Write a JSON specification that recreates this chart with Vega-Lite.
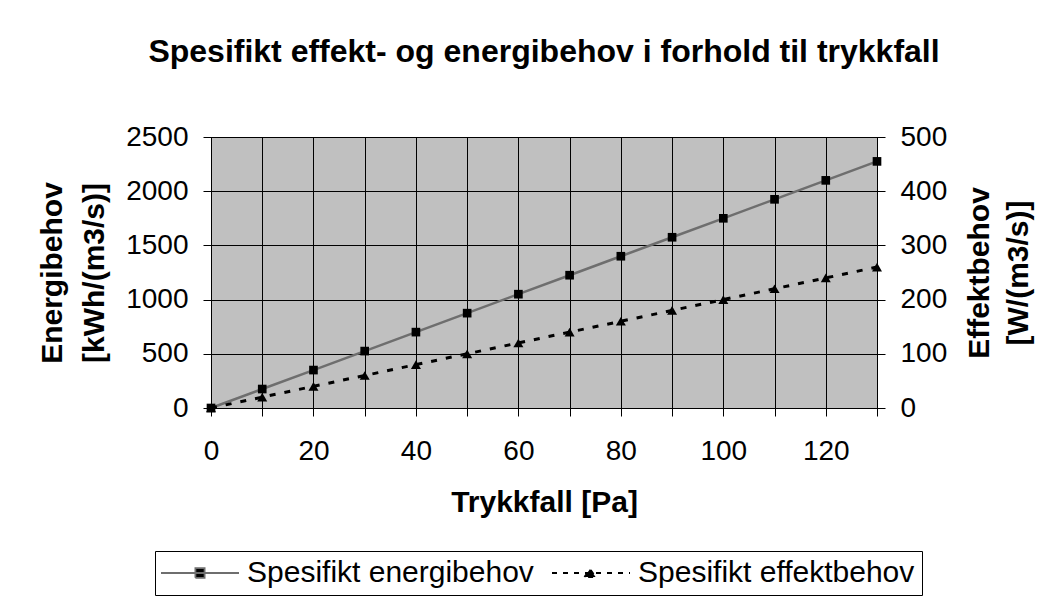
{
  "$schema": "https://vega.github.io/schema/vega-lite/v6.json",
  "autosize": "none",
  "width": 666,
  "height": 271,
  "padding": {"left": 211, "top": 137, "right": 174, "bottom": 190},
  "background": "white",
  "title": {
    "text": "Spesifikt effekt- og energibehov i forhold til trykkfall",
    "font": "Liberation Sans",
    "fontSize": 32,
    "fontWeight": "bold",
    "color": "black",
    "anchor": "middle",
    "offset": 54
  },
  "config": {
    "view": {"fill": "#c0c0c0", "stroke": "black", "strokeWidth": 1},
    "axis": {
      "labelFont": "Liberation Sans",
      "labelFontSize": 28,
      "labelColor": "black",
      "titleFont": "Liberation Sans",
      "titleFontSize": 30,
      "titleFontWeight": "bold",
      "titleColor": "black",
      "domainColor": "black",
      "tickColor": "black",
      "tickSize": 8,
      "gridColor": "black",
      "gridWidth": 1,
      "gridOpacity": 1
    }
  },
  "data": {
    "values": [
      {"trykk": 0, "energi": 0, "effekt": 0},
      {"trykk": 10, "energi": 175, "effekt": 20},
      {"trykk": 20, "energi": 350, "effekt": 40},
      {"trykk": 30, "energi": 525, "effekt": 60},
      {"trykk": 40, "energi": 700, "effekt": 80},
      {"trykk": 50, "energi": 875, "effekt": 100},
      {"trykk": 60, "energi": 1050, "effekt": 120},
      {"trykk": 70, "energi": 1225, "effekt": 140},
      {"trykk": 80, "energi": 1400, "effekt": 160},
      {"trykk": 90, "energi": 1575, "effekt": 180},
      {"trykk": 100, "energi": 1750, "effekt": 200},
      {"trykk": 110, "energi": 1925, "effekt": 220},
      {"trykk": 120, "energi": 2100, "effekt": 240},
      {"trykk": 130, "energi": 2275, "effekt": 260}
    ]
  },
  "encoding": {
    "x": {
      "field": "trykk",
      "type": "quantitative",
      "scale": {"domain": [0, 130], "nice": false, "zero": false},
      "axis": {
        "title": "Trykkfall [Pa]",
        "values": [0, 10, 20, 30, 40, 50, 60, 70, 80, 90, 100, 110, 120, 130],
        "labelExpr": "datum.value % 20 == 0 ? datum.label : ''",
        "grid": true,
        "labelPadding": 21,
        "titlePadding": 22,
        "labelFlush": false
      }
    }
  },
  "layer": [
    {
      "layer": [
        {
          "mark": {"type": "line", "strokeWidth": 2.5},
          "encoding": {
            "y": {
              "field": "energi",
              "type": "quantitative",
              "scale": {"domain": [0, 2500], "nice": false},
              "axis": {
                "title": ["Energibehov", "[kWh/(m3/s)]"],
                "orient": "left",
                "format": "d",
                "values": [0, 500, 1000, 1500, 2000, 2500],
                "grid": true,
                "titleAngle": -90,
                "titleLineHeight": 42,
                "titlePadding": 16,
                "labelPadding": 15,
                "labelFlush": false
              }
            },
            "color": {
              "datum": "Spesifikt energibehov",
              "type": "nominal",
              "scale": {"domain": ["Spesifikt energibehov", "Spesifikt effektbehov"], "range": ["#6e6e6e", "#000000"]},
              "legend": {
                "title": null,
                "orient": "none",
                "legendX": -56,
                "legendY": 414,
                "direction": "horizontal",
                "columns": 2,
                "columnPadding": 14,
                "padding": 7,
                "strokeColor": "black",
                "fillColor": "white",
                "labelFont": "Liberation Sans",
                "labelFontSize": 30,
                "labelColor": "black",
                "labelLimit": 500,
                "symbolSize": 256,
                "labelOffset": 55,
                "encode": {
                  "symbols": {
                    "update": {
                      "shape": {"signal": "datum.value == 'Spesifikt energibehov' ? 'M-2,0H7.75M2.3,-0.6H3.45V0.6H2.3Z' : 'M-2,0H7.75M2.05,0.5L2.75,-0.5L3.45,0.5Z'"},
                      "fill": {"value": "black"},
                      "stroke": {"signal": "datum.value == 'Spesifikt energibehov' ? '#6e6e6e' : 'black'"},
                      "strokeDash": {"signal": "datum.value == 'Spesifikt energibehov' ? [1, 0] : [5, 6]"},
                      "strokeWidth": {"value": 1.8},
                      "opacity": {"value": 1}
                    }
                  }
                }
              }
            }
          }
        },
        {
          "mark": {"type": "point", "shape": "square", "filled": true, "size": 75, "color": "black", "opacity": 1},
          "encoding": {
            "y": {"field": "energi", "type": "quantitative"}
          }
        }
      ]
    },
    {
      "layer": [
        {
          "mark": {"type": "line", "strokeWidth": 3, "strokeDash": [6, 9]},
          "encoding": {
            "y": {
              "field": "effekt",
              "type": "quantitative",
              "scale": {"domain": [0, 500], "nice": false},
              "axis": {
                "title": ["Effektbehov", "[W/(m3/s)]"],
                "orient": "right",
                "format": "d",
                "values": [0, 100, 200, 300, 400, 500],
                "grid": false,
                "titleAngle": -90,
                "titleLineHeight": 39,
                "titlePadding": 9,
                "labelPadding": 15,
                "labelFlush": false
              }
            },
            "color": {"datum": "Spesifikt effektbehov", "type": "nominal"}
          }
        },
        {
          "mark": {"type": "point", "shape": "triangle-up", "filled": true, "size": 100, "color": "black", "opacity": 1},
          "encoding": {
            "y": {"field": "effekt", "type": "quantitative"}
          }
        }
      ]
    }
  ],
  "resolve": {"scale": {"y": "independent"}}
}
